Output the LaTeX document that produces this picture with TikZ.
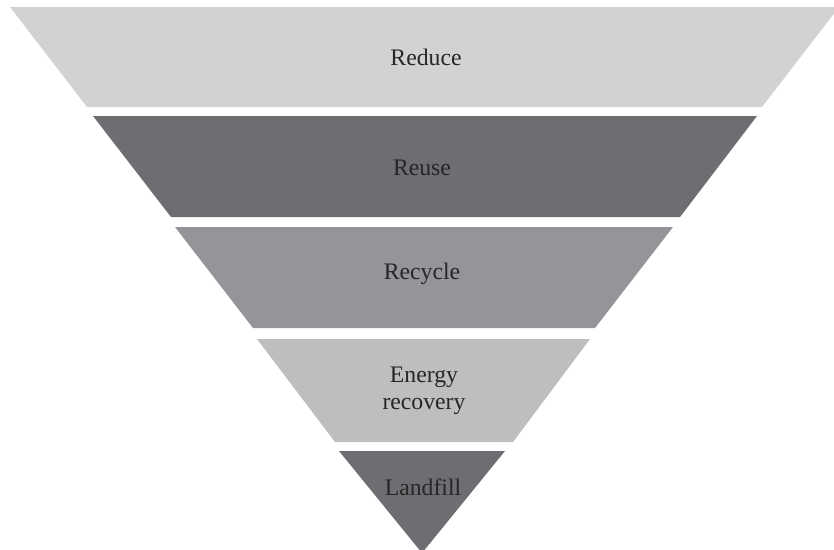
\documentclass[tikz,border=0pt]{standalone}
\usepackage{fontspec}
\setmainfont{Liberation Serif}
\usepackage{tikz}

\definecolor{grayA}{RGB}{209,210,212}
\definecolor{grayB}{RGB}{109,110,113}
\definecolor{grayC}{RGB}{147,149,152}
\definecolor{grayD}{RGB}{188,190,192}

\begin{document}
\begin{tikzpicture}[
    x=0.02cm, y=-0.02cm,
    band/.style={draw=none},
    lbl/.style={align=center, font=\fontsize{13.5}{15.5}\selectfont, text=black!85}
]

\useasboundingbox (0,0) rectangle (834,549);
\clip (0,0) rectangle (834,549);

% --- Bands of the inverted pyramid (top to bottom) ---
\fill[band, grayA] (10,7)   -- (839,7)   -- (762,107) -- (87,107)  -- cycle;
\fill[band, grayB] (93,116) -- (757,116) -- (680,217) -- (171,217) -- cycle;
\fill[band, grayC] (175,227) -- (673,227) -- (595,328) -- (253,328) -- cycle;
\fill[band, grayD] (257,339) -- (590,339) -- (513,442) -- (335,442) -- cycle;
\fill[band, grayB] (339,451) -- (505,451) -- (422,553) -- cycle;

% --- Labels ---
\node[lbl] (reduce)  at (426,57)  {Reduce};
\node[lbl] (reuse)   at (422,168) {Reuse};
\node[lbl] (recycle) at (422,274) {Recycle};
\node[lbl] (energy)  at (424,391) {Energy\\recovery};
\node[lbl] (landfill) at (423,487) {Landfill};

\end{tikzpicture}
\end{document}
